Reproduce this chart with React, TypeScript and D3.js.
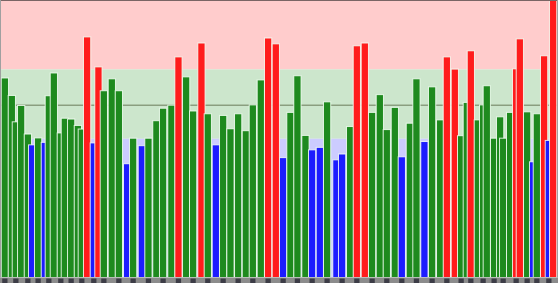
import React from "react";
import * as d3 from "d3";

// bar positions (time units, 0..100) and values (0..100)
const positions = [
  0.22, 1.47, 2.19, 3.14, 4.34, 5.11, 6.18, 7.38, 8.1, 9.0, 10.25, 10.97, 12.1, 13.3, 14.01, 14.96, 16.16, 16.99, 17.96, 19.39, 20.65,
  22.13, 23.21, 24.77, 25.95, 27.38, 28.58, 30.07, 31.33, 32.71, 33.96, 35.45, 36.59, 38.03, 39.34, 40.65, 42.03, 43.41, 44.66, 46.09,
  47.4, 48.78, 50.09, 51.4, 52.65, 54.09, 55.29, 56.67, 57.97, 59.64, 60.66, 62.1, 63.3, 64.73, 66.04, 67.42, 68.67, 70.11, 71.36,
  72.8, 73.98, 75.41, 76.79, 78.23, 79.43, 80.86, 81.99, 83.01, 83.73, 84.98, 85.93, 86.59, 87.9, 88.98, 89.52, 90.77, 91.85, 92.51,
  93.82, 94.89, 95.56, 96.86, 97.71, 98.48,
];
const values = [
  71.9, 65.6, 56.1, 62.0, 51.7, 47.8, 50.3, 48.7, 65.5, 73.7, 52.1, 57.4, 57.1, 54.8, 53.5, 86.7, 48.5, 75.9, 67.3, 71.6, 67.3,
  41.0, 50.2, 47.5, 50.2, 56.5, 61.0, 62.1, 79.5, 72.3, 60.0, 84.5, 59.0, 47.8, 58.4, 53.6, 59.0, 52.9, 62.2, 71.2,
  86.3, 84.2, 43.2, 59.5, 72.7, 51.2, 46.0, 46.9, 63.3, 42.4, 44.5, 54.4, 83.5, 84.5, 59.5, 65.9, 53.3, 61.3, 43.5,
  55.6, 71.6, 49.0, 68.7, 56.8, 79.5, 75.1, 51.1, 63.1, 81.7, 56.8, 62.2, 69.1, 50.2, 57.9, 50.2, 59.5, 75.2, 86.0,
  59.7, 41.7, 59.0, 79.9, 49.4, 100,
];
const highThreshold = 75;
const lowThreshold = 50;
const referenceLine = 62.1;
const barSpan = 1.3;

const W = 558;
const H = 283;
const baseY = 277.5;

export default function App() {
  const x = d3.scaleLinear().domain([0, 100]).range([0, W]);
  const y = d3.scaleLinear().domain([0, 100]).range([baseY, 0]);
  const bw = x(barSpan) - x(0);
  const colorOf = (v: number) => (v >= highThreshold ? "#ff1c1c" : v < lowThreshold ? "#1c1cff" : "#1e8a1e");
  const data = positions.map((p, i) => ({ p, v: values[i] }));

  return (
    <svg width={W} height={H} style={{ position: "fixed", left: 0, top: 0 }}>
      <rect x={0} y={0} width={W} height={y(highThreshold)} fill="#ffcccc" />
      <rect x={0} y={y(highThreshold)} width={W} height={y(lowThreshold) - y(highThreshold)} fill="#cce6cc" />
      <rect x={0} y={y(lowThreshold)} width={W} height={baseY - y(lowThreshold)} fill="#ccccff" />
      <line x1={0} x2={W} y1={y(referenceLine)} y2={y(referenceLine)} stroke="#6b7b5b" strokeWidth={1} />
      {data.map((d, i) => (
        <rect
          key={i}
          x={x(d.p)}
          y={y(d.v)}
          width={bw}
          height={baseY - y(d.v)}
          fill={colorOf(d.v)}
          stroke="#f4fff4"
          strokeOpacity={0.85}
          strokeWidth={1}
        />
      ))}
      <rect x={0} y={baseY} width={W} height={H - baseY} fill="#8c8c8c" />
      {data.map((d, i) =>
        i % 2 === 0 ? (
          <rect key={"s" + i} x={x(d.p) + 1} y={baseY + 1} width={bw - 2} height={H - baseY - 1} fill="#3c3c46" />
        ) : null
      )}
      <line x1={0} x2={W} y1={0.5} y2={0.5} stroke="#7a6464" strokeWidth={1} />
      <line x1={0.5} x2={0.5} y1={0} y2={baseY} stroke="#a0a0a0" strokeWidth={1} />
      <line x1={W - 0.5} x2={W - 0.5} y1={0} y2={baseY} stroke="#a0a0a0" strokeWidth={1} />
    </svg>
  );
}
